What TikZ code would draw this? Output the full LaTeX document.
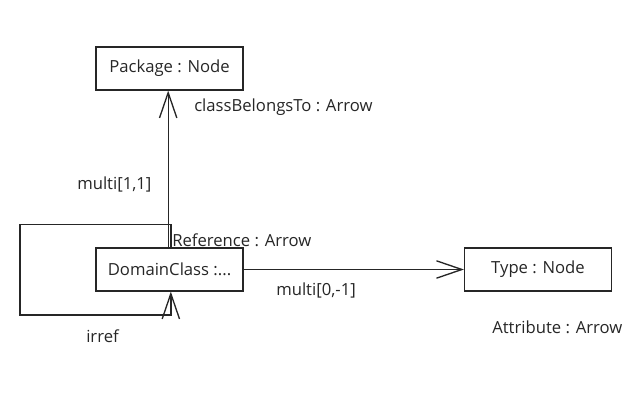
\documentclass[tikz,border=0pt]{standalone}
\usepackage{fontspec}
\setmainfont{Open Sans}
\usetikzlibrary{arrows.meta}
\tikzset{
  umlbox/.style={draw=black!85,line width=1.1pt,minimum width=110pt,minimum height=32pt,inner sep=0pt},
  umlarrow/.style={draw=black!85,line width=1pt,-{Straight Barb[length=19pt,width=13pt,line width=1pt]}},
  umllabel/.style={anchor=west,inner sep=0pt}
}
\begin{document}
\begin{tikzpicture}[x=0.75pt,y=-0.75pt,font=\fontsize{12.5}{15}\selectfont,text=black!85]
\useasboundingbox (0,0) rectangle (634,402);
% boxes
\node[umlbox] (pkg) at (169.5,68.5) {Package : Node};
\node[umlbox] (dc) at (169.5,269.5) {DomainClass :...};
\node[umlbox] (type) at (538,269.5) {Type : Node};
\coordinate (loopleft) at (20,315);
% connectors
\draw[umlarrow] ([xshift=-1pt]dc.north) -- ([xshift=-1pt]pkg.south);
\draw[umlarrow] ([xshift=1pt]dc.north) -- ++(0,-23) -| (loopleft) -| ([xshift=1pt]dc.south);
\draw[umlarrow] (dc.east) -- (type.west);
% labels
\node[umllabel] (belongslbl) at (194,107) {classBelongsTo : Arrow};
\node[umllabel] (multiup) at (77,184) {multi[1,1]};
\node[umllabel] (reflbl) at (172,240) {Reference : Arrow};
\node[umllabel] (irreflbl) at (86,336) {irref};
\node[umllabel] (multiright) at (276,290) {multi[0,-1]};
\node[umllabel] (attrlbl) at (492,327) {Attribute : Arrow};
\end{tikzpicture}
\end{document}
